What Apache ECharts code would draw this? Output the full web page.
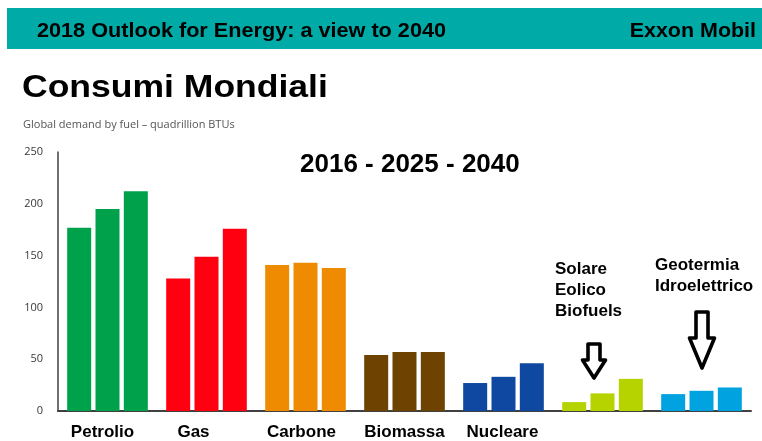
<!DOCTYPE html>
<html>
<head>
<meta charset="utf-8">
<script src="https://cdn.jsdelivr.net/npm/echarts@6/dist/echarts.min.js"></script>
<style>
html,body{margin:0;padding:0;background:#fff;}
#chart{width:762px;height:441px;}
</style>
</head>
<body>
<div id="chart"></div>
<script>
// ---- data ----
var categories = ['Petrolio', 'Gas', 'Carbone', 'Biomassa', 'Nucleare', 'Solare Eolico Biofuels', 'Geotermia Idroelettrico'];
var tickLabels = ['Petrolio', 'Gas', 'Carbone', 'Biomassa', 'Nucleare', '', ''];
var years = ['2016', '2025', '2040'];
var values2016 = [177, 128, 141, 54, 27, 8.6, 16.3];
var values2025 = [195, 149, 143, 57, 33, 17, 19.5];
var values2040 = [212, 176, 138, 57, 46, 31, 22.7];
var yTicks = [0, 50, 100, 150, 200, 250];

// ---- styles ----
var fuelColors = ['#00A14B', '#FF0010', '#EE8B00', '#6E4200', '#0E48A0', '#B6D300', '#00A3E0'];
var labelShiftLeft = [5, 13, 4, 0, 1, 0, 0];
var bold = function (size) { return 'bold ' + size + 'px "Liberation Sans", Arial, sans-serif'; };

var chart = echarts.init(document.getElementById('chart'), null, {renderer: 'canvas'});

function makeSeries(name, data) {
  return {
    name: name,
    type: 'bar',
    data: data,
    barWidth: 24,
    barGap: '18%',
    itemStyle: {
      color: function (p) { return fuelColors[p.dataIndex]; }
    },
    emphasis: {disabled: true}
  };
}

function txt(t, x, y, size, scaleX, align) {
  return {
    type: 'text', x: x, y: y, scaleX: scaleX || 1, scaleY: 1,
    style: {
      text: t, font: bold(size), fill: '#000',
      textAlign: align || 'left', align: align || 'left',
      textVerticalAlign: 'middle', verticalAlign: 'middle'
    }
  };
}

function arrow(cx, top, headY, tipY, shaftHalf, headHalf) {
  return {
    type: 'polygon',
    shape: {
      points: [
        [cx - shaftHalf, top], [cx + shaftHalf, top], [cx + shaftHalf, headY],
        [cx + headHalf, headY], [cx, tipY], [cx - headHalf, headY], [cx - shaftHalf, headY]
      ]
    },
    style: {fill: '#fff', stroke: '#000', lineWidth: 3.6, lineJoin: 'round'}
  };
}

var labelRich = {};
labelShiftLeft.forEach(function (s, i) {
  labelRich['s' + i] = {
    color: '#000', fontSize: 17, fontWeight: 'bold',
    fontFamily: '"Liberation Sans", Arial, sans-serif',
    padding: [0, 2 * s, 0, 0]
  };
});

var option = {
  backgroundColor: '#fff',
  animation: false,
  grid: {left: 58, right: 11, top: 152, bottom: 28, containLabel: false},
  xAxis: {
    type: 'category',
    data: categories,
    axisLine: {show: true, lineStyle: {color: '#404040', width: 2}},
    axisTick: {show: false},
    axisLabel: {
      interval: 0,
      margin: 13,
      color: '#000',
      fontSize: 17,
      fontWeight: 'bold',
      fontFamily: '"Liberation Sans", Arial, sans-serif',
      rich: labelRich,
      formatter: function (v, i) {
        return tickLabels[i] ? '{s' + i + '|' + tickLabels[i] + '}' : '';
      }
    }
  },
  yAxis: {
    type: 'value',
    min: yTicks[0],
    max: yTicks[yTicks.length - 1],
    interval: 50,
    axisLine: {show: true, lineStyle: {color: '#404040', width: 1.5}},
    axisTick: {show: false},
    splitLine: {show: false},
    axisLabel: {
      margin: 15,
      color: '#383838',
      fontSize: 11,
      fontFamily: '"Open Sans", sans-serif'
    }
  },
  series: [
    makeSeries(years[0], values2016),
    makeSeries(years[1], values2025),
    makeSeries(years[2], values2040)
  ],
  graphic: {
    elements: [
      {type: 'rect', shape: {x: 7, y: 8, width: 755, height: 41}, style: {fill: '#00AAA6'}},
      txt('2018 Outlook for Energy: a view to 2040', 37, 32, 19.5, 1.11),
      txt('Exxon Mobil', 756, 32, 19.5, 1.1, 'right'),
      txt('Consumi Mondiali', 22, 88.5, 32, 1.11),
      {
        type: 'text', x: 23, y: 125,
        style: {
          text: 'Global demand by fuel \u2013 quadrillion BTUs',
          font: '11px "Open Sans", sans-serif', fill: '#555',
          textAlign: 'left', align: 'left', textVerticalAlign: 'middle', verticalAlign: 'middle'
        }
      },
      txt('2016 - 2025 - 2040', 300, 164.5, 26, 1),
      txt('Solare', 555, 269, 17, 1),
      txt('Eolico', 555, 290.5, 17, 1),
      txt('Biofuels', 555, 311, 17, 1),
      txt('Geotermia', 655, 265.5, 17, 1),
      txt('Idroelettrico', 655, 286, 17, 1),
      arrow(594, 344, 360, 378, 6, 11.5),
      arrow(702, 312, 338, 368, 6, 12.5)
    ]
  }
};
chart.setOption(option);
</script>
</body>
</html>
